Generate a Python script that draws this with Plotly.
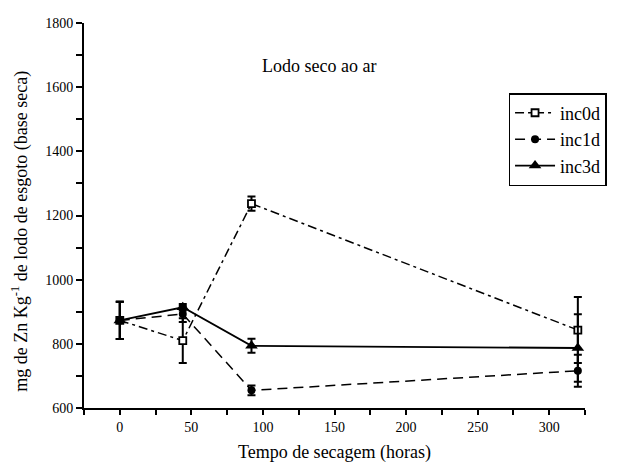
import plotly.graph_objects as go

# Drying time (hours) and Zn content (mg/kg dry basis) per incubation series
hours = [0, 44, 92, 320]

inc0d = [873, 810, 1237, 843]
inc0d_err = [58, 70, 22, 103]

inc1d = [873, 893, 655, 716]
inc1d_err = [58, 25, 15, 50]

inc3d = [873, 914, 794, 787]
inc3d_err = [58, 10, 22, 105]

FONT = "Liberation Serif"


def err(values):
    return dict(type="data", array=values, visible=True, color="black",
                thickness=2, width=4)


fig = go.Figure()

fig.add_trace(go.Scatter(
    x=hours, y=inc0d, name="inc0d", mode="lines+markers",
    line=dict(color="black", width=1.5, dash="9px,4px,3px,4px"),
    marker=dict(symbol="square", size=7, color="white",
                line=dict(color="black", width=1.8)),
    error_y=err(inc0d_err),
))
fig.add_trace(go.Scatter(
    x=hours, y=inc1d, name="inc1d", mode="lines+markers",
    line=dict(color="black", width=1.5, dash="10px,6px"),
    marker=dict(symbol="circle", size=8, color="black"),
    error_y=err(inc1d_err),
))
fig.add_trace(go.Scatter(
    x=hours, y=inc3d, name="inc3d", mode="lines+markers",
    line=dict(color="black", width=1.8),
    marker=dict(symbol="triangle-up", size=11, color="black"),
    error_y=err(inc3d_err),
))

fig.update_layout(
    width=619, height=466,
    margin=dict(l=84, r=17, t=23, b=58),
    paper_bgcolor="white", plot_bgcolor="white",
    font=dict(family=FONT, color="black", size=14),
    showlegend=True,
    legend=dict(
        x=1.043, y=0.818, xanchor="right", yanchor="top",
        bgcolor="white", bordercolor="black", borderwidth=1.5,
        font=dict(family=FONT, size=18, color="black"),
        tracegroupgap=0, itemwidth=40,
    ),
    xaxis=dict(
        range=[-25, 325], tickmode="linear", tick0=0, dtick=50,
        showline=True, linecolor="black", linewidth=2,
        ticks="outside", ticklen=5, tickwidth=1.5, tickcolor="black",
        minor=dict(dtick=25, tick0=0, ticks="outside", ticklen=5,
                   tickwidth=1.5, tickcolor="black"),
        showgrid=False, zeroline=False, automargin=False,
        tickfont=dict(family=FONT, size=14),
        title=dict(text="Tempo de secagem (horas)",
                   font=dict(family=FONT, size=18), standoff=12),
    ),
    yaxis=dict(
        range=[600, 1800], tickmode="linear", tick0=600, dtick=200,
        showline=True, linecolor="black", linewidth=2,
        ticks="outside", ticklen=6, tickwidth=1.5, tickcolor="black",
        minor=dict(dtick=100, tick0=600, ticks="outside", ticklen=6,
                   tickwidth=1.5, tickcolor="black"),
        showgrid=False, zeroline=False, automargin=False,
        tickfont=dict(family=FONT, size=14),
    ),
    annotations=[
        dict(text="Lodo seco ao ar", xref="paper", yref="paper",
             x=0.469, y=0.888, xanchor="center", yanchor="middle",
             showarrow=False, font=dict(family=FONT, size=18)),
        dict(text="mg de Zn Kg<sup>-1</sup> de lodo de esgoto (base seca)",
             xref="paper", yref="paper", x=-0.128, y=0.46,
             xanchor="center", yanchor="middle",
             textangle=-90, showarrow=False,
             font=dict(family=FONT, size=18)),
    ],
)

fig.write_html("out.html")
